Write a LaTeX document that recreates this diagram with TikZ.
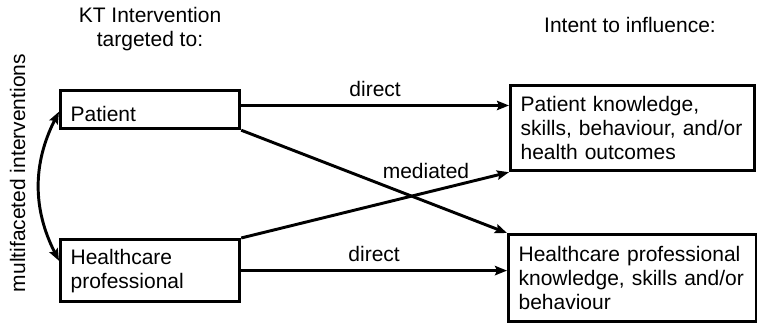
\documentclass[tikz,border=0pt]{standalone}
\usepackage{fontspec}
\setmainfont{Liberation Sans}
\usetikzlibrary{arrows.meta,calc}

\begin{document}
\begin{tikzpicture}[x=0.75pt,y=-0.75pt,
        font=\fontsize{15.75}{18}\selectfont,
        >={Stealth[length=9pt,width=7pt,inset=1.5pt]},
        box/.style={draw, line width=2.4pt, anchor=north west, align=left,
            inner xsep=7.5pt, inner ysep=0pt},
        arr/.style={line width=2.2pt, ->},
        lbl/.style={inner sep=0pt}]
        \useasboundingbox (0,0) rectangle (757,323);

        % Headings
        \node[align=center, inner sep=0pt] (kt) at (150,29.5) {KT Intervention\\targeted to:};
        \node[anchor=base, inner sep=0pt] (intent) at (630,33) {Intent to influence:};
        \node[rotate=90, anchor=base, inner sep=0pt] (multi) at (25,173) {multifaceted interventions};

        % Targets
        \node[box, text width=119.25pt, minimum height=28.5pt,
            text height=18pt, text depth=0pt] (pat) at (59,89) {Patient};
        \node[box, text width=119.25pt, minimum height=46.5pt] (hp) at (59,238)
            {Healthcare\\professional};

        % Outcomes
        \node[box, text width=168pt, minimum height=63.75pt] (pk) at (509,84)
            {Patient knowledge, skills, behaviour, and/or health outcomes};
        \node[box, text width=171pt, minimum height=65.25pt] (hc) at (507,233)
            {Healthcare professional knowledge, skills and/or behaviour};

        % Direct arrows
        \coordinate (pout) at ($(pat.north east)!0.4!(pat.south east)$);
        \draw[arr] (pout) -- node[lbl, above=5.25pt] (d1) {direct} (pout -| pk.west);
        \draw[arr] (hp.east) -- node[lbl, above=5.25pt] (d2) {direct} (hp.east -| hc.west);

        % Mediated arrows
        \draw[arr] (pat.south east) -- (hc.north west);
        \draw[arr] (hp.north east) -- node[lbl, pos=0.69, above=9pt] (med) {mediated} (pk.south west);

        % Multifaceted
        \coordinate (pin) at ($(pat.north west)!0.55!(pat.south west)$);
        \coordinate (hin) at ($(hp.north west)!0.35!(hp.south west)$);
        \draw[line width=2.2pt, <->] (pin) to[bend right=27] (hin);
    \end{tikzpicture}
\end{document}
